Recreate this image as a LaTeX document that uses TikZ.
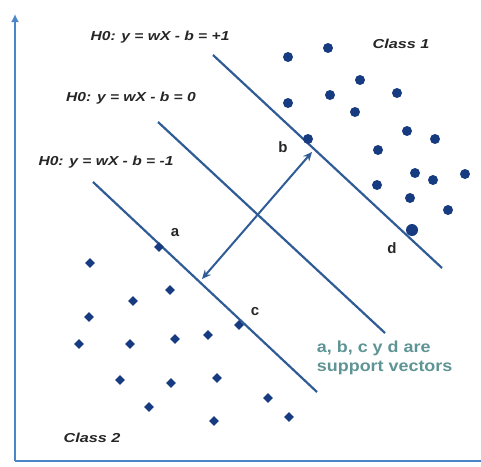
\documentclass[tikz,border=0pt]{standalone}
\usepackage{fontspec}
\setmainfont{Liberation Sans}
\usetikzlibrary{arrows.meta,shapes.geometric}
\definecolor{axisblue}{HTML}{4A86C8}
\definecolor{lineblue}{HTML}{2F5C96}
\definecolor{dotblue}{HTML}{173B80}
\definecolor{teal}{HTML}{5E9494}
\tikzset{
  hyper/.style={draw=lineblue, line width=2.2pt},
  axisline/.style={draw=axisblue, line width=2pt},
  cone/.style={circle, fill=dotblue, inner sep=0pt, minimum size=10pt},
  ctwo/.style={diamond, fill=dotblue, inner sep=0pt, minimum size=10pt},
  eqlabel/.style={font=\bfseries\itshape\fontsize{13}{14}\selectfont, text=black!85, xscale=1.2},
  classlabel/.style={font=\bfseries\itshape\fontsize{13}{14}\selectfont, text=black!85, xscale=1.25},
  ptlabel/.style={font=\bfseries\fontsize{15}{16}\selectfont, text=black!85},
  note/.style={font=\bfseries\fontsize{16}{19.5}\selectfont, text=teal, align=left, xscale=1.12}
}
\begin{document}
\begin{tikzpicture}[x=1pt,y=-1pt]
\useasboundingbox (0,0) rectangle (481,466);
% axes
\coordinate (o) at (15,461);
\coordinate (ytop) at (15,14);
\coordinate (xend) at (481,461);
\draw[axisline, -{Latex[length=8pt,width=8pt]}] (o) -- (ytop);
\draw[axisline] (o) -- (xend);
% hyperplanes
\coordinate (p1s) at (213,55);  \coordinate (p1e) at (442,268);
\coordinate (p0s) at (158,122); \coordinate (p0e) at (385,333);
\coordinate (m1s) at (93,182);  \coordinate (m1e) at (317,392);
\draw[hyper] (p1s) -- (p1e);
\draw[hyper] (p0s) -- (p0e);
\draw[hyper] (m1s) -- (m1e);
% margin arrow
\coordinate (arrA) at (202,279);
\coordinate (arrB) at (312,152);
\draw[hyper, line width=2pt, {Stealth[length=9pt,width=8pt]}-{Stealth[length=9pt,width=8pt]}] (arrA) -- (arrB);
% labels
\node[eqlabel] (e1) at (160,37) {H0: y = wX - b = +1};
\node[eqlabel] (e0) at (131,98) {H0: y = wX - b = 0};
\node[eqlabel] (em1) at (106,162) {H0: y = wX - b = -1};
\node[classlabel] (c1) at (401,44) {Class 1};
\node[classlabel] (c2) at (92,438) {Class 2};
% class 1 points
\foreach \n/\x/\y in {q1/288/57, q2/328/48, q3/360/80, q4/330/95, q5/288/103, q6/397/93, q7/355/112, q8/407/131, q9/435/139, q10/378/150, q11/415/173, q12/433/180, q13/465/174, q14/377/185, q15/410/198, q16/448/210}
  \node[cone] (\n) at (\x,\y) {};
\node[cone] (pb) at (308,139) {};
\node[cone, minimum size=12pt] (pd) at (412,230) {};
% class 2 points
\foreach \n/\x/\y in {r1/90/263, r2/170/290, r3/133/301, r4/89/317, r5/208/335, r6/175/339, r7/130/344, r8/79/344, r9/217/378, r10/171/383, r11/120/380, r12/268/398, r13/149/407, r14/214/421, r15/289/417}
  \node[ctwo] (\n) at (\x,\y) {};
\node[ctwo] (pa) at (159,247) {};
\node[ctwo] (pc) at (239,325) {};
% point labels
\node[ptlabel] (la) at (175,233) {a};
\node[ptlabel] (lb) at (283,147) {b};
\node[ptlabel] (lc) at (255,312) {c};
\node[ptlabel] (ld) at (392,248) {d};
\node[note, anchor=west] (sv) at (313,358) {a, b, c y d are\\support vectors};
\end{tikzpicture}
\end{document}
